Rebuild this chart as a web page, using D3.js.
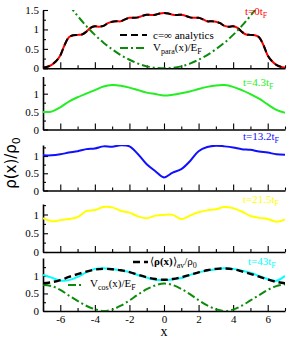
<!DOCTYPE html>
<html><head><meta charset="utf-8">
<script src="https://cdn.jsdelivr.net/npm/d3@7"></script>
<style>body{margin:0;background:#fff}svg{display:block}</style>
</head><body>
<script>
// ---------- data ----------
const xFine = d3.range(-7, 7.001, 0.25);
const xCoarse = d3.range(-7, 7.001, 0.5);
const rho_t0 = [0.02,0.04,0.09,0.18,0.33,0.60,0.80,0.85,0.86,0.87,0.94,1.04,1.08,1.07,1.09,1.16,1.20,1.21,1.21,1.26,1.30,1.30,1.31,1.35,1.38,1.37,1.38,1.41,1.42,
  1.41,1.38,1.37,1.38,1.35,1.31,1.30,1.30,1.26,1.21,1.21,1.20,1.16,1.09,1.07,1.08,1.04,0.94,0.87,0.86,0.85,0.80,0.60,0.33,0.18,0.09,0.04,0.02];
const rho_analytic = rho_t0.slice();
const xPara = [-5.5,-5,-4.5,-4,-3.5,-3,-2.5,-2,-1.5,-1,-0.5,0,0.5,1,1.5,2,2.5,3,3.5,4,4.5,5,5.5];
const vPara = [1.63,1.35,1.09,0.86,0.66,0.49,0.34,0.22,0.12,0.05,0.01,0.00,0.01,0.05,0.12,0.22,0.34,0.49,0.66,0.86,1.09,1.35,1.63];
const rho_t4_3 = [0.49,0.50,0.62,0.78,0.90,1.00,1.10,1.20,1.24,1.22,1.17,1.10,1.03,0.99,0.95,0.97,1.01,1.06,1.13,1.19,1.23,1.24,1.19,1.10,0.99,0.86,0.70,0.55,0.47];
const rho_t13_2 = [1.02,1.02,1.05,1.10,1.14,1.20,1.22,1.28,1.27,1.31,1.28,1.05,0.76,0.56,0.38,0.52,0.62,0.85,1.14,1.26,1.30,1.28,1.25,1.20,1.18,1.13,1.10,1.05,1.04];
const rho_t21_5 = [0.90,0.82,0.85,0.88,0.93,1.09,1.12,1.20,1.19,1.10,1.05,0.95,0.90,0.97,0.99,0.99,0.88,0.97,1.06,1.11,1.14,1.20,1.17,1.08,0.96,0.91,0.88,0.81,0.87];
const rho_t43 = [1.03,0.95,0.87,0.88,0.97,1.10,1.20,1.22,1.19,1.16,1.11,1.02,0.95,0.89,0.88,0.90,0.94,1.03,1.10,1.15,1.19,1.22,1.20,1.15,1.09,1.00,0.91,0.86,1.00];
const rho_avg = [0.79,0.82,0.88,0.97,1.05,1.12,1.18,1.20,1.19,1.16,1.11,1.03,0.96,0.91,0.89,0.91,0.96,1.03,1.10,1.16,1.20,1.21,1.19,1.13,1.06,0.98,0.90,0.83,0.79];
const vCos = [0.74,0.71,0.60,0.44,0.29,0.15,0.05,0.00,0.04,0.15,0.30,0.47,0.62,0.73,0.78,0.74,0.63,0.48,0.31,0.16,0.05,0.00,0.04,0.15,0.30,0.45,0.60,0.71,0.76];
const xTicks = [-6,-4,-2,0,2,4,6];
const xMinor = [-7,-5,-3,-1,1,3,5,7];
const timeLabels = ["0", "4.3", "13.2", "21.5", "43"];

// ---------- layout ----------
const W = 291, H = 339, L = 43, R = 285;
const svg = d3.select("body").append("svg").attr("width", W).attr("height", H);
const x = d3.scaleLinear().domain([-7, 7]).range([L, R]);
const panels = [
  {top: 10, bottom: 68.3, ymax: 1.5, major: [0,0.5,1,1.5], minor: [0.25,0.75,1.25], color: "#ff0000"},
  {top: 76.5, bottom: 129.5, ymax: 1.48, major: [0,0.5,1], minor: [0.25,0.75,1.25], color: "#22ee22"},
  {top: 145, bottom: 190.5, ymax: 1.32, major: [0,0.5,1], minor: [0.25,0.75,1.25], color: "#1010ff"},
  {top: 204, bottom: 252, ymax: 1.28, major: [0,0.5,1], minor: [0.25,0.75,1.25], color: "#ffff00"},
  {top: 258, bottom: 311, ymax: 1.51, major: [0,0.5,1], minor: [0.25,0.75,1.25], color: "#00ffff"}
];
const serif = "'Liberation Serif', 'Times New Roman', serif";

panels.forEach((p, i) => {
  p.y = d3.scaleLinear().domain([0, p.ymax]).range([p.bottom, p.top]);
  const g = svg.append("g");
  svg.append("clipPath").attr("id", "clip" + i).append("rect")
    .attr("x", L).attr("y", p.top).attr("width", R - L).attr("height", p.bottom - p.top);
  p.plot = svg.append("g").attr("clip-path", `url(#clip${i})`);
  const ay = g.append("g").attr("transform", `translate(${L},0)`)
    .call(d3.axisLeft(p.y).tickValues(p.major).tickSizeInner(-5).tickSizeOuter(0).tickPadding(4)
      .tickFormat(d => d3.format("")(d)));
  const ayMinor = g.append("g").attr("transform", `translate(${L},0)`)
    .call(d3.axisLeft(p.y).tickValues(p.minor.filter(v => v < p.ymax)).tickSizeInner(-3).tickSizeOuter(0).tickFormat(""));
  ayMinor.select(".domain").remove();
  const ax = g.append("g").attr("transform", `translate(0,${p.bottom})`)
    .call(d3.axisBottom(x).tickValues(xTicks).tickSizeInner(-6).tickSizeOuter(0).tickPadding(4)
      .tickFormat(i === 4 ? (d => d3.format("")(d).replace("−", "-")) : ""));
  const axMinor = g.append("g").attr("transform", `translate(0,${p.bottom})`)
    .call(d3.axisBottom(x).tickValues(xMinor).tickSizeInner(-3).tickSizeOuter(0).tickFormat(""));
  axMinor.select(".domain").remove();
  [ay, ax].forEach(a => a.select(".domain").attr("stroke-width", 1.6));
  g.selectAll(".tick line").attr("stroke-width", 1.1);
  g.selectAll(".tick text").attr("font-family", serif).attr("font-size", 11).attr("fill", "#000");
});

function drawLine(p, xs, ys, color, width, dash, curve) {
  const line = d3.line().x((d, k) => x(xs[k])).y(d => p.y(d)).curve(curve || d3.curveCatmullRom);
  p.plot.append("path").datum(ys).attr("d", line).attr("fill", "none")
    .attr("stroke", color).attr("stroke-width", width)
    .attr("stroke-dasharray", dash || null).attr("stroke-linejoin", "round");
}
const dashDot = "8,3,2,3";
const green = "#0a8c0a";

drawLine(panels[0], xFine, rho_t0, "#ff0000", 2);
drawLine(panels[0], xFine, rho_analytic, "#000", 2, "7,4");
drawLine(panels[0], xPara, vPara, green, 2, dashDot, d3.curveNatural);
drawLine(panels[1], xCoarse, rho_t4_3, panels[1].color, 2);
drawLine(panels[2], xCoarse, rho_t13_2, panels[2].color, 2);
drawLine(panels[3], xCoarse, rho_t21_5, panels[3].color, 2);
drawLine(panels[4], xCoarse, vCos, green, 2, dashDot);
drawLine(panels[4], xCoarse, rho_t43, panels[4].color, 2);
drawLine(panels[4], xCoarse, rho_avg, "#000", 2.4, "7,4");

const labelPos = [[245, 15], [243, 86], [243, 140], [243, 203], [248, 265]];
timeLabels.forEach((t, i) => {
  const tx = svg.append("text").attr("x", labelPos[i][0]).attr("y", labelPos[i][1])
    .attr("font-family", serif).attr("font-size", 11).attr("fill", panels[i].color);
  tx.append("tspan").text(`t=${t}t`);
  tx.append("tspan").attr("font-size", 8).attr("dy", 3).text("F");
});

function legendLine(x1, x2, yy, color, dash, w) {
  svg.append("line").attr("x1", x1).attr("x2", x2).attr("y1", yy).attr("y2", yy)
    .attr("stroke", color).attr("stroke-width", w || 2).attr("stroke-dasharray", dash);
}
legendLine(120, 147, 35, "#000", "7,4");
svg.append("text").attr("x", 153).attr("y", 39).attr("font-family", serif).attr("font-size", 11)
  .text("c=∞ analytics");
legendLine(120, 147, 48, green, dashDot);
{
  const t = svg.append("text").attr("x", 153).attr("y", 51).attr("font-family", serif).attr("font-size", 11);
  t.append("tspan").text("V");
  t.append("tspan").attr("font-size", 8).attr("dy", 3).text("para");
  t.append("tspan").attr("dy", -3).text("(x)/E");
  t.append("tspan").attr("font-size", 8).attr("dy", 3).text("F");
}
legendLine(133, 148, 262, "#000", "7,4", 2.4);
{
  const t = svg.append("text").attr("x", 150).attr("y", 265).attr("font-family", serif).attr("font-size", 11);
  t.append("tspan").text("⟨");
  t.append("tspan").attr("font-weight", "bold").text("ρ(x)");
  t.append("tspan").text("⟩");
  t.append("tspan").attr("font-size", 8).attr("dy", 3).text("av");
  t.append("tspan").attr("dy", -3).text("/ρ");
  t.append("tspan").attr("font-size", 8).attr("dy", 3).text("0");
}
legendLine(68, 84, 285, green, dashDot);
{
  const t = svg.append("text").attr("x", 90).attr("y", 287).attr("font-family", serif).attr("font-size", 11);
  t.append("tspan").text("V");
  t.append("tspan").attr("font-size", 8).attr("dy", 3).text("cos");
  t.append("tspan").attr("dy", -3).text("(x)/E");
  t.append("tspan").attr("font-size", 8).attr("dy", 3).text("F");
}

svg.append("text").attr("x", x(0)).attr("y", 336).attr("text-anchor", "middle")
  .attr("font-family", serif).attr("font-size", 14).text("x");
{
  const t = svg.append("text").attr("transform", "translate(16,163) rotate(-90)")
    .attr("text-anchor", "middle").attr("font-family", "'DejaVu Sans', sans-serif").attr("font-size", 15);
  t.append("tspan").text("ρ(x)/ρ");
  t.append("tspan").attr("font-size", 11).attr("dy", 4).text("0");
}
</script>
</body></html>
